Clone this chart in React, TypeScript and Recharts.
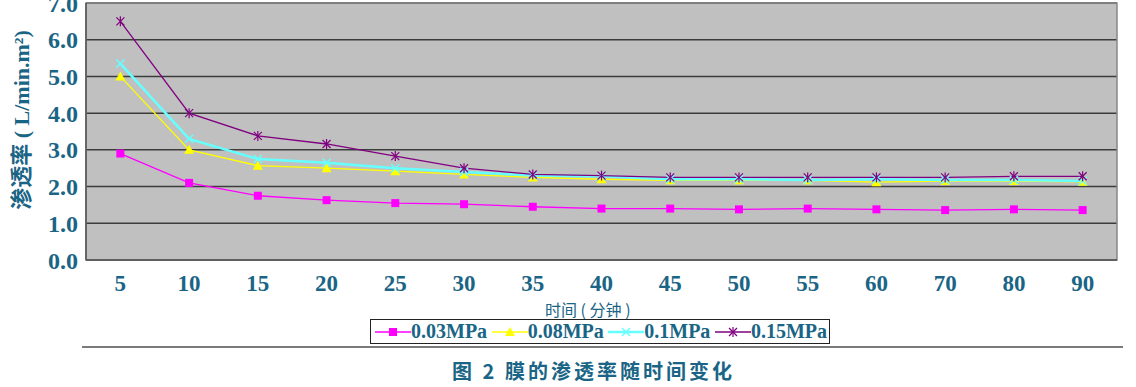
import React from "react";
import {
  LineChart,
  Line,
  XAxis,
  YAxis,
  CartesianGrid,
  ReferenceArea,
} from "recharts";

const minutes = ["5", "10", "15", "20", "25", "30", "35", "40", "45", "50", "55", "60", "70", "80", "90"];
const p003 = [2.9, 2.1, 1.75, 1.63, 1.55, 1.52, 1.45, 1.4, 1.4, 1.38, 1.4, 1.38, 1.36, 1.38, 1.36];
const p008 = [5.0, 3.0, 2.57, 2.5, 2.42, 2.33, 2.25, 2.2, 2.17, 2.17, 2.17, 2.12, 2.15, 2.15, 2.13];
const p01 = [5.35, 3.3, 2.75, 2.65, 2.5, 2.4, 2.3, 2.28, 2.2, 2.2, 2.18, 2.2, 2.18, 2.18, 2.15];
const p015 = [6.5, 4.0, 3.38, 3.16, 2.83, 2.5, 2.33, 2.3, 2.25, 2.25, 2.25, 2.25, 2.25, 2.28, 2.28];
const yTicks = [0, 1, 2, 3, 4, 5, 6, 7];
const boundaryTicks = [1, 2, 3, 4, 5, 6, 7, 8, 9, 10, 11, 12, 13, 14];

const data = minutes.map((m, i) => ({
  t: m,
  a: p003[i],
  b: p008[i],
  c: p01[i],
  d: p015[i],
}));

const TEAL = "#1a6585";
const SERIF = "'Liberation Serif', 'Times New Roman', serif";

const series = [
  { key: "a", name: "0.03MPa", color: "#ff00ff", marker: "square", width: 1.3 },
  { key: "b", name: "0.08MPa", color: "#ffff00", marker: "triangle", width: 1.3 },
  { key: "c", name: "0.1MPa", color: "#66ffff", marker: "cross", width: 2.5 },
  { key: "d", name: "0.15MPa", color: "#800080", marker: "star", width: 1.3 },
];

function Marker({ cx, cy, type, color }: any) {
  if (cx == null || cy == null) return null;
  if (type === "square")
    return <rect x={cx - 4} y={cy - 4} width={8} height={8} fill={color} />;
  if (type === "triangle")
    return <polygon points={`${cx},${cy - 5} ${cx - 5},${cy + 4} ${cx + 5},${cy + 4}`} fill={color} />;
  if (type === "cross")
    return (
      <g stroke={color} strokeWidth={1.5}>
        <line x1={cx - 4} y1={cy - 4} x2={cx + 4} y2={cy + 4} />
        <line x1={cx - 4} y1={cy + 4} x2={cx + 4} y2={cy - 4} />
      </g>
    );
  return (
    <g stroke={color} strokeWidth={1.2}>
      <line x1={cx - 4} y1={cy - 4} x2={cx + 4} y2={cy + 4} />
      <line x1={cx - 4} y1={cy + 4} x2={cx + 4} y2={cy - 4} />
      <line x1={cx} y1={cy - 5} x2={cx} y2={cy + 5} />
    </g>
  );
}

function LegendBox() {
  return (
    <div
      style={{
        position: "absolute",
        left: 370,
        top: 319,
        width: 460,
        height: 25,
        boxSizing: "border-box",
        display: "flex",
        alignItems: "center",
        justifyContent: "space-between",
        border: "1.5px solid #222",
        padding: "0 2px 0 4px",
        fontFamily: SERIF,
        fontWeight: "bold",
        fontSize: 20,
        color: TEAL,
        background: "#fff",
      }}
    >
      {series.map((s) => (
        <div key={s.key} style={{ display: "flex", alignItems: "center" }}>
          <svg width={36} height={14}>
            <line x1={0} y1={7} x2={36} y2={7} stroke={s.color} strokeWidth={s.width} />
            <Marker cx={18} cy={7} type={s.marker} color={s.color} />
          </svg>
          <span>{s.name}</span>
        </div>
      ))}
    </div>
  );
}

const YLabel = () => (
  <text
    transform="translate(29,120) rotate(-90)"
    textAnchor="middle"
    fill={TEAL}
    fontFamily="'Liberation Serif', 'Noto Sans CJK SC', serif"
    fontWeight="bold"
    fontSize={22}
  >
    渗透率 ( L/min.m²)
  </text>
);

export default function App() {
  return (
    <div style={{ position: "absolute", left: 0, top: 0, width: 1136, height: 387, background: "#fff" }}>
      <LineChart
        width={1136}
        height={387}
        data={data}
        margin={{ top: 3, right: 19, left: 0, bottom: 97 }}
      >
        <CartesianGrid
          vertical={false}
          stroke="#3c3c3c"
          strokeWidth={1.5}
          fill="#c0c0c0"
          fillOpacity={1}
        />
        <ReferenceArea y1={0} y2={7} fill="none" stroke="#888" strokeWidth={1.5} />
        <XAxis
          xAxisId="bound"
          type="number"
          domain={[0, 15]}
          ticks={boundaryTicks}
          tick={false}
          tickSize={6}
          mirror
          tickLine={{ stroke: "#333" }}
          axisLine={false}
          height={0}
        />
        <XAxis
          dataKey="t"
          scale="band"
          height={30}
          tickLine={false}
          tickSize={6}
          tickMargin={9}
          axisLine={{ stroke: "#555", strokeWidth: 1.5 }}
          tick={{ fill: TEAL, fontFamily: SERIF, fontWeight: "bold", fontSize: 23 }}
          interval={0}
        />
        <YAxis
          width={86}
          domain={[0, 7]}
          ticks={yTicks}
          interval={0}
          tickFormatter={(v: number) => v.toFixed(1)}
          tickLine={false}
          tickMargin={6}
          tickSize={2}
          axisLine={{ stroke: "#555", strokeWidth: 1.5 }}
          tick={{ fill: TEAL, fontFamily: SERIF, fontWeight: "bold", fontSize: 24 }}
          label={{ content: () => <YLabel /> }}
        />
        {series.map((s) => (
          <Line
            key={s.key}
            dataKey={s.key}
            name={s.name}
            stroke={s.color}
            strokeWidth={s.width}
            isAnimationActive={false}
            dot={(p: any) => <Marker key={`${s.key}-${p.index}`} cx={p.cx} cy={p.cy} type={s.marker} color={s.color} />}
            activeDot={false}
          />
        ))}
      </LineChart>
      <LegendBox />
      <div
        style={{
          position: "absolute",
          left: 545,
          top: 297,
          color: TEAL,
          fontFamily: "'Noto Sans CJK SC', sans-serif",
          fontSize: 16,
          whiteSpace: "pre",
        }}
      >
        时间 ( 分钟 )
      </div>
      <div style={{ position: "absolute", left: 82, top: 346, width: 1041, height: 2, background: "#7a7a7a" }} />
      <div
        style={{
          position: "absolute",
          left: 452,
          top: 356,
          color: TEAL,
          fontFamily: "'Noto Sans CJK SC', sans-serif",
          fontWeight: "bold",
          fontSize: 20,
          letterSpacing: 3,
          whiteSpace: "pre",
        }}
      >
        图 2 膜的渗透率随时间变化
      </div>
    </div>
  );
}
